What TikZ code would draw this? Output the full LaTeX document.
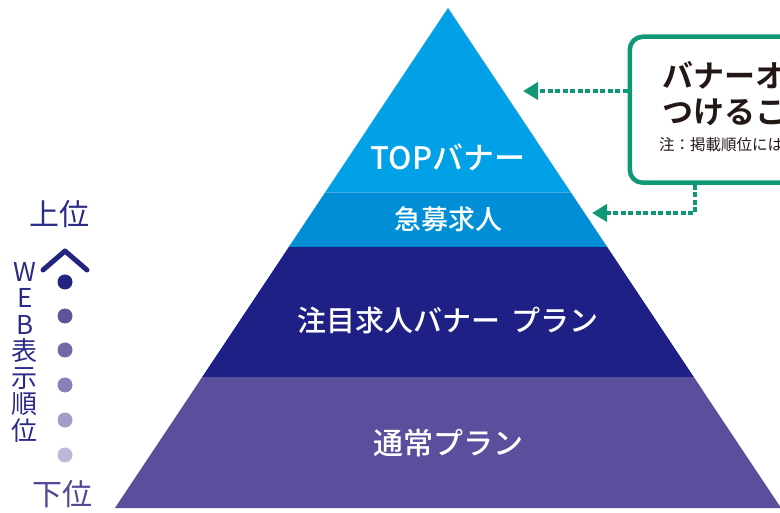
\documentclass[tikz,border=0pt]{standalone}
\usepackage{fontspec}
\setmainfont{Noto Sans CJK JP}[BoldFont={Noto Sans CJK JP Bold}]
\newfontfamily\medfont{Noto Sans CJK JP Medium}
\usetikzlibrary{arrows.meta, calc}
\definecolor{topblue}{RGB}{0,161,230}
\definecolor{kyublue}{RGB}{0,143,214}
\definecolor{navyband}{RGB}{31,32,134}
\definecolor{purpleband}{RGB}{89,79,157}
\definecolor{notegreen}{RGB}{14,152,118}
\definecolor{ranknavy}{RGB}{42,42,136}
\definecolor{ranklow}{RGB}{78,72,150}
\definecolor{notetext}{RGB}{35,24,21}
\definecolor{rankA}{RGB}{35,35,128}
\definecolor{rankB}{RGB}{96,83,153}
\definecolor{rankC}{RGB}{117,104,168}
\definecolor{rankD}{RGB}{138,128,184}
\definecolor{rankE}{RGB}{163,155,200}
\definecolor{rankF}{RGB}{189,183,217}
\begin{document}
\begin{tikzpicture}[x=1pt, y=-1pt,
  bandlabel/.style={text=white, inner sep=0pt},
  dotted link/.style={notegreen, line width=4pt, dash pattern=on 5pt off 2.5pt,
    -{Triangle[length=15pt,width=17pt]}},
  rankdot/.style={circle, inner sep=0pt, minimum size=15pt},
  ranktext/.style={inner sep=0pt, font=\fontsize{30}{32}\selectfont}]
\useasboundingbox (0,0) rectangle (780,513);
\clip (0,0) rectangle (780,513);

% pyramid
\coordinate (apex) at (448,8);
\coordinate (bl) at (115,508);
\coordinate (br) at (781,508);
\foreach \t [count=\i] in {0.368,0.478,0.738} {
  \coordinate (l\i) at ($(apex)!\t!(bl)$);
  \coordinate (r\i) at ($(apex)!\t!(br)$);
}
\foreach \d/\op in {7/0.04,5/0.06,3/0.08}
  \fill[black, opacity=\op, shift={(\d,\d)}] (apex) -- (br) -- (bl) -- cycle;
\fill[topblue] (apex) -- (r1) -- (l1) -- cycle;
\fill[kyublue] (l1) -- (r1) -- (r2) -- (l2) -- cycle;
\fill[navyband] (l2) -- (r2) -- (r3) -- (l3) -- cycle;
\fill[purpleband] (l3) -- (r3) -- (br) -- (bl) -- cycle;
\draw[white, opacity=0.25, line width=0.6pt] (l1) -- (r1);

\node[bandlabel, font=\medfont\fontsize{31}{33}\selectfont] (topban) at (448,157) {TOPバナー};
\node[bandlabel, font=\medfont\fontsize{27}{29}\selectfont] (kyubo) at (448,219) {急募求人};
\node[bandlabel, font=\medfont\fontsize{29}{31}\selectfont] (chumoku) at (448,320) {注目求人バナー\hspace{0.4em}プラン};
\node[bandlabel, font=\medfont\fontsize{30}{32}\selectfont] (tsujo) at (448,443) {通常プラン};

% rank scale
\node[ranktext, text=ranknavy] (joui) at (59,214) {上位};
\node[ranktext, text=ranklow] (kai) at (62,494) {下位};
\draw[rankA, line width=5pt, line cap=round, line join=round] (43,270) -- (65,251) -- (87,270);
\foreach \y/\c [count=\i] in {282/rankA,316/rankB,350/rankC,385/rankD,420/rankE,455/rankF}
  \node[rankdot, fill=\c] (dot\i) at (65,\y) {};
\node[inner sep=0pt, text=ranknavy, align=center, font=\fontsize{26}{26.5}\selectfont]
  (webrank) at (25,352) {W\\E\\B\\表\\示\\順\\位};

% note
\node[draw=notegreen, line width=4.5pt, rounded corners=13pt, fill=white,
  minimum width=220pt, minimum height=146pt, anchor=north west] (note) at (627.5,34.5) {};
\node[anchor=west, inner sep=0pt, text=notetext, font=\bfseries\fontsize{31}{33}\selectfont] (line1) at (662,75) {バナーオ};
\node[anchor=west, inner sep=0pt, text=notetext, font=\bfseries\fontsize{31}{33}\selectfont] (line2) at (662,112) {つけるこ};
\node[anchor=west, inner sep=0pt, text=notetext, font=\fontsize{15.5}{17}\selectfont] (remark) at (659,145) {注：掲載順位には};

\coordinate (toptip) at (523,91);
\coordinate (kyutip) at (592,213);
\coordinate (elbow) at (695,213);
\draw[dotted link] (note.west |- toptip) -- (toptip);
\draw[dotted link] (elbow |- note.south) -- (elbow) -- (kyutip);
\end{tikzpicture}
\end{document}
